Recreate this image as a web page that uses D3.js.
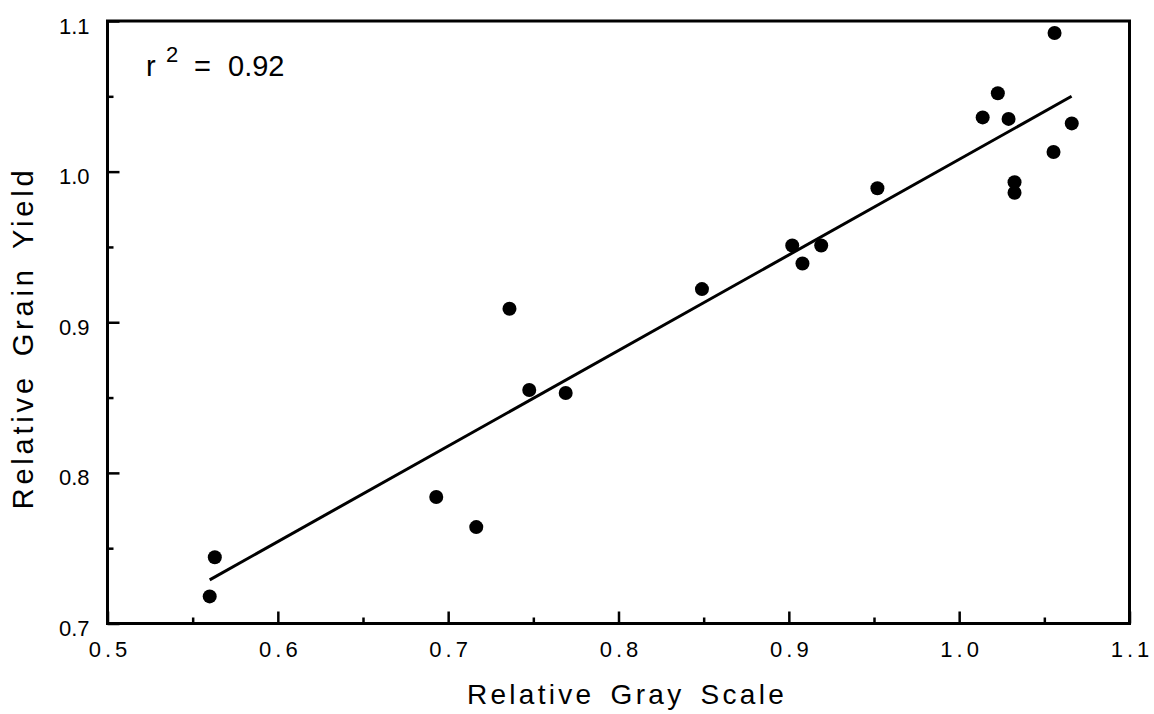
<!DOCTYPE html>
<html><head><meta charset="utf-8">
<script src="https://cdn.jsdelivr.net/npm/d3@7"></script>
<style>body{margin:0;background:#fff}svg{display:block}text{font-family:"Liberation Sans",Arial,sans-serif;fill:#000}</style>
</head><body><svg id="c" width="1154" height="714"></svg>
<script>
const grayScale = [0.560,0.563,0.693,0.7165,0.736,0.7476,0.769,0.849,0.902,0.908,0.919,0.952,1.056,1.0227,1.0138,1.029,1.0661,1.0554,1.0325,1.0325];
const grainYield = [0.718,0.744,0.784,0.764,0.909,0.855,0.853,0.922,0.951,0.939,0.951,0.989,1.092,1.052,1.036,1.035,1.032,1.013,0.993,0.986];
const fitX = [0.560, 1.066];
const fitY = [0.729, 1.050];
const xTicks = [0.5,0.6,0.7,0.8,0.9,1.0,1.1];
const xMinor = [0.55,0.65,0.75,0.85,0.95,1.05];
const yTicks = [0.7,0.8,0.9,1.0,1.1];
const yMinor = [0.75,0.85,0.95,1.05];
const r2Label = "0.92";

const svg = d3.select("#c");
const L=107.5, R=1129.5, T=21, B=623.5;
const x = d3.scaleLinear().domain([0.5,1.1]).range([L,R]);
const y = d3.scaleLinear().domain([0.7,1.1]).range([B,T]);

// frame
svg.append("rect").attr("x",L).attr("y",T).attr("width",R-L).attr("height",B-T)
  .attr("fill","none").attr("stroke","#000").attr("stroke-width",3);

// x axis ticks (inward)
const gx = svg.append("g").attr("transform",`translate(0,${B})`)
  .call(d3.axisBottom(x).tickValues(xTicks).tickSize(-12).tickPadding(18).tickFormat(d3.format(".1f")));
gx.select(".domain").remove();
gx.selectAll("line").attr("stroke-width",2.5);
gx.selectAll("text").style("font-size","22px").style("letter-spacing","4px").attr("dx","2px");
svg.append("g").attr("transform",`translate(0,${B})`)
  .call(d3.axisBottom(x).tickValues(xMinor).tickSize(-6).tickFormat(""))
  .call(g=>{g.select(".domain").remove();g.selectAll("line").attr("stroke-width",2.5);});

// y axis
const gy = svg.append("g").attr("transform",`translate(${L},0)`)
  .call(d3.axisLeft(y).tickValues(yTicks).tickSize(-12).tickPadding(18).tickFormat(d3.format(".1f")));
gy.select(".domain").remove();
gy.selectAll("line").attr("stroke-width",2.5);
gy.selectAll("text").style("font-size","22px").attr("dy","0.55em");
svg.append("g").attr("transform",`translate(${L},0)`)
  .call(d3.axisLeft(y).tickValues(yMinor).tickSize(-6).tickFormat(""))
  .call(g=>{g.select(".domain").remove();g.selectAll("line").attr("stroke-width",2.5);});

// regression line
svg.append("path").datum(fitX.map((v,i)=>[v,fitY[i]]))
  .attr("d",d3.line().x(d=>x(d[0])).y(d=>y(d[1])))
  .attr("stroke","#000").attr("stroke-width",3).attr("fill","none");

// points
svg.append("g").selectAll("circle").data(grayScale.map((v,i)=>[v,grainYield[i]])).join("circle")
  .attr("cx",d=>x(d[0])).attr("cy",d=>y(d[1])).attr("r",7).attr("fill","#000");

// r^2 label
const t = svg.append("text").attr("y",76).style("font-size","29px");
t.append("tspan").attr("x",146).text("r");
t.append("tspan").attr("x",166).attr("y",62).style("font-size","22px").text("2");
t.append("tspan").attr("x",194).attr("y",76).text("=");
t.append("tspan").attr("x",228).attr("y",76).text(r2Label);

// axis titles
svg.append("text").attr("x",627).attr("y",704).attr("text-anchor","middle")
  .style("font-size","28px").style("letter-spacing","3.3px").style("word-spacing","5px").text("Relative Gray Scale");
svg.append("text").attr("transform","translate(33,338) rotate(-90)").attr("text-anchor","middle")
  .style("font-size","29px").style("letter-spacing","3.8px").style("word-spacing","6px").text("Relative Grain Yield");
</script></body></html>
